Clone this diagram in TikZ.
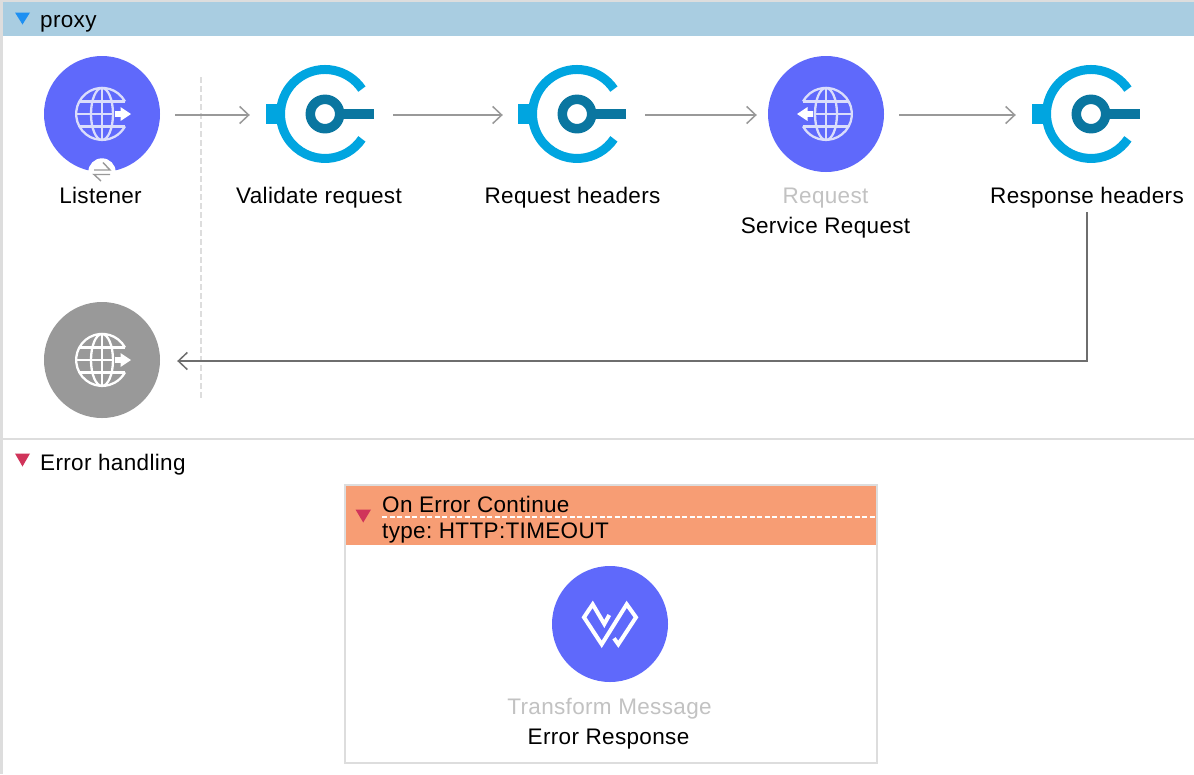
\documentclass[tikz,border=0pt]{standalone}
\usepackage{fontspec}
\setmainfont{Liberation Sans}[LetterSpace=1.5]
\usetikzlibrary{arrows.meta}
\definecolor{hdrblue}{HTML}{A9CDE1}
\definecolor{tribl}{HTML}{1E90F2}
\definecolor{trired}{HTML}{D0345A}
\definecolor{muleblue}{HTML}{5F69FB}
\definecolor{endgray}{HTML}{999999}
\definecolor{ringblue}{HTML}{00A5E0}
\definecolor{keyblue}{HTML}{0A76A0}
\definecolor{globelight}{HTML}{DADDFB}
\definecolor{edgegray}{HTML}{DDDDDD}
\definecolor{flowgray}{HTML}{999999}
\definecolor{backgray}{HTML}{6E6E6E}
\definecolor{errhead}{HTML}{F79D74}
\definecolor{faint}{HTML}{C2C2C2}
\tikzset{
  x=1pt,y=-1pt,
  flowcircle/.style={circle,draw=none,minimum size=116pt,inner sep=0pt},
  iconbox/.style={rectangle,draw=none,minimum width=108pt,minimum height=98pt,inner sep=0pt},
  lbl/.style={font=\fontsize{22.5}{27}\selectfont\frenchspacing,inner sep=0pt,anchor=base,text=black},
  lblleft/.style={lbl,anchor=base west},
  lblfaint/.style={lbl,text=faint},
  flow/.style={draw=flowgray,line width=1.5pt,-{Straight Barb[length=9pt,width=17pt]}},
  backflow/.style={draw=backgray,line width=1.5pt,-{Straight Barb[length=9pt,width=17pt]}},
  globe/.pic={
    \begin{scope}[line width=2.3pt]
      \draw[#1] (23,-12.5) arc[start angle=-28.5,end angle=-331.5,radius=26];
      \draw[#1] (0,-26) -- (0,26);
      \draw[#1] (-26,0) -- (11,0);
      \draw[#1] (-23,-12.5) -- (23,-12.5);
      \draw[#1] (-23,12.5) -- (23,12.5);
      \draw[#1] (0,-26) arc[start angle=-90,end angle=90,x radius=11,y radius=26];
      \draw[#1] (0,-26) arc[start angle=-90,end angle=-270,x radius=11,y radius=26];
    \end{scope}
    \fill[white] (13,-2.8) -- (18.5,-2.8) -- (18.5,-7) -- (29,0) -- (18.5,7) -- (18.5,2.8) -- (13,2.8) -- cycle;
  },
  keyicon/.pic={
    \draw[ringblue,line width=9pt] (36.9,-24.9) arc[start angle=-34,end angle=-326,radius=44.5];
    \fill[ringblue] (-59,-10) rectangle (-44,10);
    \draw[keyblue,line width=9.5pt] (0,0) circle[radius=14.7];
    \fill[keyblue] (17,-4.6) rectangle (49,4.6);
  },
}
\begin{document}
\begin{tikzpicture}
\useasboundingbox (0,0) rectangle (1194,774);
\fill[white] (0,0) rectangle (1194,774);
% frame and bands
\fill[edgegray] (0,0) rectangle (1194,2);
\fill[edgegray] (0,0) rectangle (3.3,774);
\fill[hdrblue] (3.3,2) rectangle (1194,36);
\fill[edgegray] (3.3,438) rectangle (1194,440);
\fill[tribl] (15,12.5) -- (30,12.5) -- (22.5,24.5) -- cycle;
\fill[trired] (15,453.5) -- (30,453.5) -- (22.5,466.5) -- cycle;
\node[lblleft] (proxytitle) at (40,27.5) {proxy};
\node[lblleft] (errtitle) at (40,470) {Error handling};
% source divider
\draw[edgegray,line width=1.6pt,dash pattern=on 6pt off 3pt] (201,77) -- (201,398);
% error scope
\fill[errhead] (345,486) rectangle (877,545);
\draw[edgegray,line width=2pt] (345,485) rectangle (877,763);
\draw[white,line width=1.3pt,dash pattern=on 5pt off 2.5pt] (382,517) -- (876,517);
\fill[trired] (355.5,509.5) -- (371,509.5) -- (363.2,522.5) -- cycle;
\node[lblleft] (errname) at (382,512) {On Error Continue};
\node[lblleft] (errtype) at (382,538) {type: HTTP:TIMEOUT};
% nodes
\node[flowcircle,fill=muleblue] (listener) at (102,114) {};
\pic at (102,114) {globe=globelight};
\fill[white] (102,172) circle[radius=13.7];
\draw[flowgray,line width=1.4pt] (94,170) -- (110,170) -- (103,162.5);
\draw[flowgray,line width=1.4pt] (110,174.5) -- (94,174.5) -- (101,181);
\node[iconbox] (validate) at (320,114) {};
\pic at (325,114) {keyicon};
\node[iconbox] (reqhdr) at (572,114) {};
\pic at (577,114) {keyicon};
\node[flowcircle,fill=muleblue] (request) at (826,114) {};
\pic[xscale=-1] at (826,114) {globe=globelight};
\node[iconbox] (resphdr) at (1086,114) {};
\pic at (1091,114) {keyicon};
\node[flowcircle,fill=endgray] (listenerend) at (102,360) {};
\pic at (102,360) {globe=white};
\node[flowcircle,fill=muleblue] (transform) at (610,624) {};
\draw[white,line width=4pt,miter limit=10] (609.3,615) -- (604.3,624) -- (592.7,604.3) -- (584,617.3) -- (601.7,644.3) -- (626.7,604.3) -- (636,617.3) -- (618.3,644.3) -- (614,638.3);
% labels
\node[lbl] (l1) at (100.5,203.5) {Listener};
\node[lbl] (l2) at (319,203.5) {Validate request};
\node[lbl] (l3) at (572.5,203.5) {Request headers};
\node[lblfaint] (l4a) at (825.5,203.5) {Request};
\node[lbl] (l4b) at (825.5,233.5) {Service Request};
\node[lbl] (l5) at (1087,203.5) {Response headers};
\node[lblfaint] (l6a) at (609.5,714) {Transform Message};
\node[lbl] (l6b) at (608.5,744) {Error Response};
% connectors
\draw[flow,shorten <=15pt,shorten >=16pt] ([yshift=-1pt]listener.east) -- ([yshift=-1pt]validate.west);
\draw[flow,shorten <=19pt,shorten >=15pt] ([yshift=-1pt]validate.east) -- ([yshift=-1pt]reqhdr.west);
\draw[flow,shorten <=19pt,shorten >=11pt] ([yshift=-1pt]reqhdr.east) -- ([yshift=-1pt]request.west);
\draw[flow,shorten <=15pt,shorten >=16pt] ([yshift=-1pt]request.east) -- ([yshift=-1pt]resphdr.west);
\draw[backflow,shorten <=4pt,shorten >=17pt] (l5.south) |- ([yshift=-1pt]listenerend.east);
\end{tikzpicture}
\end{document}
